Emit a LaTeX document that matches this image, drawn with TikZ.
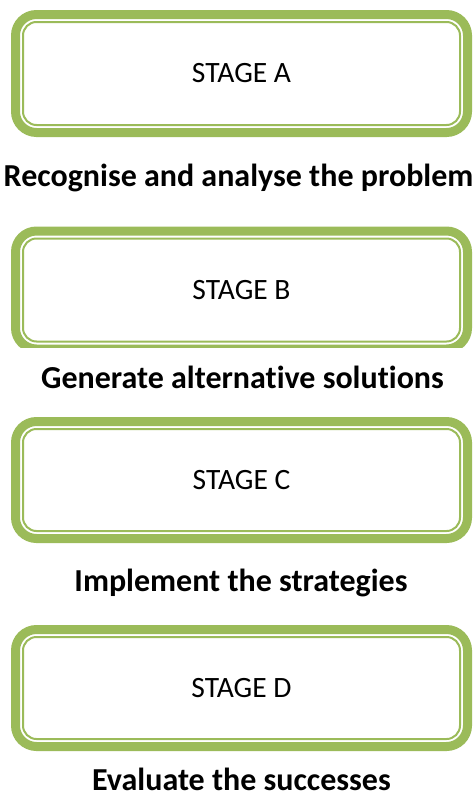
\documentclass[tikz,border=0pt]{standalone}
\usepackage{fontspec}
\setmainfont{Carlito}[Ligatures={NoCommon}]
\usepackage{xcolor}
\usepackage{tikz}
\usetikzlibrary{positioning}

\definecolor{stagegreen}{HTML}{9BBB59}

\begin{document}
\begin{tikzpicture}[x=1pt, y=-1pt]
          \tikzstyle{stage}=[draw=stagegreen, line width=9pt, rounded corners=21pt, outer sep=0pt, inner sep=0pt, minimum width=452pt, minimum height=118pt, font=\fontsize{29.5}{35}\selectfont]
          \tikzstyle{inner line}=[draw=stagegreen, line width=2pt, rounded corners=13.5pt]
          \tikzstyle{task}=[anchor=base, inner sep=0pt, font=\bfseries\fontsize{32}{38}\selectfont]
          \useasboundingbox (0,0) rectangle (474,806);
          % stage A
          \node[stage] (A) at (241.5,73.5) {STAGE A};
          \draw[inner line] ([shift={(7.5,7.5)}]A.north west) rectangle ([shift={(-7.5,-7.5)}]A.south east);
          % stage B, cut off at the bottom
          \begin{scope}
            \clip (0,200) rectangle (474,347);
            \node[stage] (B) at (241.5,290) {STAGE B};
            \draw[inner line] ([shift={(7.5,7.5)}]B.north west) rectangle ([shift={(-7.5,-7.5)}]B.south east);
          \end{scope}
          % stage C
          \node[stage, minimum height=117pt] (C) at (241.5,480) {STAGE C};
          \draw[inner line] ([shift={(7.5,7.5)}]C.north west) rectangle ([shift={(-7.5,-7.5)}]C.south east);
          % stage D
          \node[stage, minimum height=117pt] (D) at (241.5,688) {STAGE D};
          \draw[inner line] ([shift={(7.5,7.5)}]D.north west) rectangle ([shift={(-7.5,-7.5)}]D.south east);
          % tasks
          \node[task] (recog) at (238.5,186) {Recognise and analyse the problem};
          \node[task] (gener) at (242.5,388) {Generate alternative solutions};
          \node[task] (implem) at (241,591) {Implement the strategies};
          \node[task] (evalu) at (241.5,790) {Evaluate the successes};
        \end{tikzpicture}
\end{document}
